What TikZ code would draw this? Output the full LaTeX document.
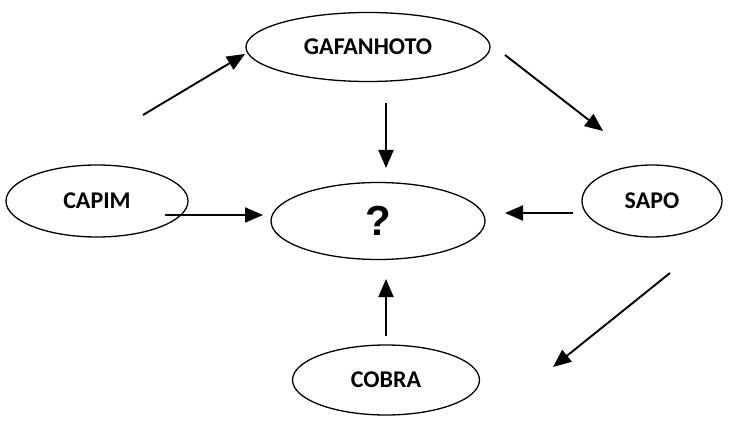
\documentclass[tikz,border=0pt]{standalone}
\usepackage{fontspec}
\setmainfont{Carlito}
\newfontfamily\qfont{Liberation Sans}
\usetikzlibrary{shapes.geometric,arrows.meta}
\begin{document}
\begin{tikzpicture}[x=1pt,y=-1pt,
  oval/.style={draw,ellipse,line width=1.3pt,inner sep=0pt,font=\fontsize{24}{27}\selectfont\bfseries},
  arr/.style={line width=1.9pt,-{Triangle[length=18pt,width=15pt]}}]
\useasboundingbox (0,0) rectangle (731,425);
\node[oval,minimum width=244pt,minimum height=69pt] (g) at (368,47) {GAFANHOTO};
\node[oval,minimum width=182pt,minimum height=72pt] (c) at (97,201) {CAPIM};
\node[oval,minimum width=214pt,minimum height=77pt,font=\qfont\fontsize{42}{46}\selectfont\bfseries] (q) at (378,221) {?};
\node[oval,minimum width=140pt,minimum height=72pt] (s) at (652,201) {SAPO};
\node[oval,minimum width=187pt,minimum height=70pt] (b) at (386,380) {COBRA};
\coordinate (a1s) at (143,115); \coordinate (a1e) at (245,54);
\coordinate (a2s) at (505,55); \coordinate (a2e) at (603,131);
\coordinate (a3s) at (386,103); \coordinate (a3e) at (386,168);
\coordinate (a4s) at (165,215); \coordinate (a4e) at (263,215);
\coordinate (a5s) at (573,213); \coordinate (a5e) at (505,213);
\coordinate (a6s) at (386,336); \coordinate (a6e) at (386,279);
\coordinate (a7s) at (670,273); \coordinate (a7e) at (553,367);
\draw[arr] (a1s) -- (a1e);
\draw[arr] (a2s) -- (a2e);
\draw[arr] (a3s) -- (a3e);
\draw[arr] (a4s) -- (a4e);
\draw[arr] (a5s) -- (a5e);
\draw[arr] (a6s) -- (a6e);
\draw[arr] (a7s) -- (a7e);
\end{tikzpicture}
\end{document}
